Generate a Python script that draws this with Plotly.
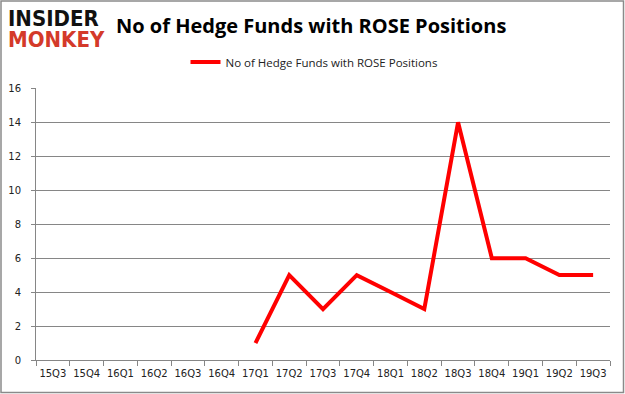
import plotly.graph_objects as go

quarters = ["15Q3", "15Q4", "16Q1", "16Q2", "16Q3", "16Q4", "17Q1", "17Q2", "17Q3",
            "17Q4", "18Q1", "18Q2", "18Q3", "18Q4", "19Q1", "19Q2", "19Q3"]
hedge_funds = [None, None, None, None, None, None, 1, 5, 3, 5, 4, 3, 14, 6, 6, 5, 5]
y_ticks = [0, 2, 4, 6, 8, 10, 12, 14, 16]

W, H = 625, 394
L, R, T, B = 36, 15, 88, 34
pw, ph = W - L - R, H - T - B

def px(xp):
    return (xp - L) / pw

def py(yp):
    return (H - B - yp) / ph

fig = go.Figure()
fig.add_trace(go.Scatter(
    x=quarters, y=hedge_funds, mode="lines",
    name="No of Hedge Funds with ROSE Positions",
    line=dict(color="#ff0000", width=4),
    connectgaps=False,
))

grid = "#868686"
fig.update_layout(
    width=W, height=H,
    margin=dict(l=L, r=R, t=T, b=B, autoexpand=False),
    paper_bgcolor="white", plot_bgcolor="white",
    showlegend=True,
    legend=dict(orientation="h", x=px(314), y=py(62), xanchor="center", yanchor="middle",
                font=dict(family="Open Sans", size=11.5, color="#222"),
                bgcolor="rgba(0,0,0,0)", itemwidth=30),
    xaxis=dict(type="category", categoryorder="array", categoryarray=quarters,
               showgrid=False, showline=True, linecolor=grid, linewidth=1,
               ticks="outside", tickson="boundaries", ticklen=5, tickcolor=grid,
               tickangle=0, automargin=False, ticklabelstandoff=4,
               tickfont=dict(family="DejaVu Sans", size=10, color="#222"),
               range=[-0.5, len(quarters) - 0.5]),
    yaxis=dict(range=[0, 16.02], tickvals=y_ticks, showgrid=True, gridcolor=grid, gridwidth=1,
               showline=True, linecolor=grid, linewidth=1, ticks="outside", ticklen=4,
               tickcolor=grid, zeroline=False, automargin=False, ticklabelstandoff=8,
               tickfont=dict(family="DejaVu Sans", size=10, color="#222")),
    shapes=[dict(type="rect", xref="paper", yref="paper",
                 x0=px(1), x1=px(623.5), y0=py(392.5), y1=py(1),
                 line=dict(color="#8a8a8a", width=1.5), fillcolor="rgba(0,0,0,0)")],
    annotations=[
        dict(text="<b>No of Hedge Funds with ROSE Positions</b>", xref="paper", yref="paper",
             x=px(311), y=py(26), xanchor="center", yanchor="middle", showarrow=False,
             font=dict(family="Open Sans", size=20, color="black")),
        dict(text="<b>INSIDER</b>", xref="paper", yref="paper",
             x=px(6), y=py(18), xanchor="left", yanchor="middle", showarrow=False,
             font=dict(family="DejaVu Sans Condensed, DejaVu Sans", size=22, color="#111")),
        dict(text="<b>MONKEY</b>", xref="paper", yref="paper",
             x=px(6), y=py(40), xanchor="left", yanchor="middle", showarrow=False,
             font=dict(family="DejaVu Sans Condensed, DejaVu Sans", size=22, color="#d43a2a")),
    ],
)

fig.write_html("out.html", config={"displayModeBar": False},
               post_script="document.body.style.margin='0';document.body.style.overflow='hidden';")
